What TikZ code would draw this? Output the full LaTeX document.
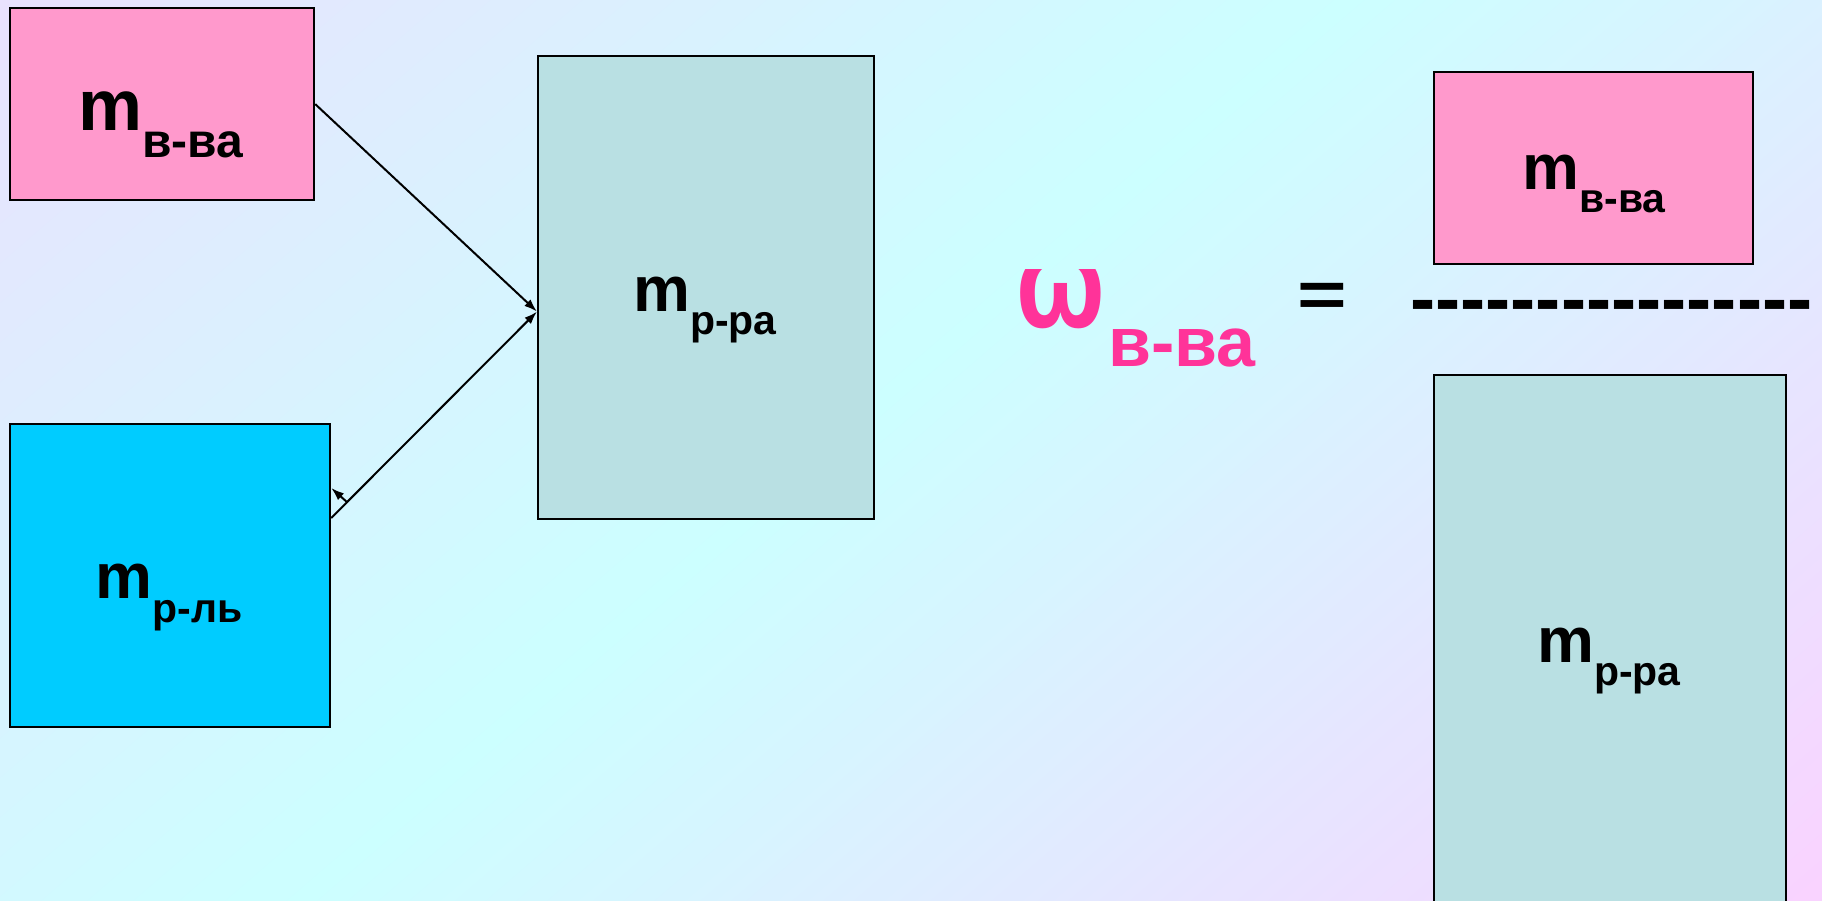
\documentclass[tikz,border=0pt]{standalone}
\usepackage{fontspec}
\newfontfamily\slidefont{Liberation Sans}
\usetikzlibrary{arrows.meta,calc}

\definecolor{bgLav}{RGB}{233,226,254}
\definecolor{bgCyan}{RGB}{204,255,255}
\definecolor{bgPink}{RGB}{250,210,255}
\definecolor{solutePink}{RGB}{255,153,204}
\definecolor{solnTeal}{RGB}{185,224,227}
\definecolor{solvBlue}{RGB}{0,204,255}
\definecolor{omegaPink}{RGB}{255,51,153}

\newcommand{\massterm}[4]{{\fontsize{#1}{#1}\selectfont m}\raisebox{-#3pt}{\fontsize{#2}{#2}\selectfont #4}}

\tikzset{
  box/.style={draw=black, line width=2.2pt, rectangle, inner sep=0pt, anchor=north west},
  lbl/.style={font=\slidefont\bfseries, inner sep=0pt, anchor=base},
  arr/.style={line width=2pt, -{Latex[length=13pt,width=9pt]}},
}

\begin{document}
\begin{tikzpicture}[x=1pt,y=-1pt]
  \path[use as bounding box, clip] (0,0) rectangle (1822,901);
  % background: lavender -> cyan -> pink, in strips
  \begin{scope}[rotate=-49.3]
    \foreach \u in {0,10,...,1880}{
      \pgfmathsetmacro{\mixA}{min(100,\u/8.72)}
      \pgfmathsetmacro{\mixB}{max(0,(\u-872)/10.01)}
      \fill[bgPink!\mixB!bgCyan!\mixA!bgLav] (\u,-1600) rectangle ++(11,3200);
    }
  \end{scope}

  % left side
  \node[box, fill=solutePink, minimum width=304pt, minimum height=192pt] (A) at (9,7) {};
  \node[box, fill=solnTeal, minimum width=336pt, minimum height=463pt] (B) at (537,55) {};
  \node[box, fill=solvBlue, minimum width=320pt, minimum height=303pt] (C) at (9,423) {};
  \node[lbl] (lA) at (161,131) {\massterm{72}{48}{27}{в-ва}};
  \node[lbl] (lB) at (705,311) {\massterm{64}{41}{23}{р-ра}};
  \node[lbl] (lC) at (169,598) {\massterm{64}{41}{24}{р-ль}};

  \coordinate (bIn) at ($(B.west)+(0,24)$);
  \coordinate (cOut) at ($(C.north east)+(0,95)$);
  \coordinate (cTip) at ($(C.north east)+(0,65)$);
  \coordinate (kink) at ($(cOut)!0.077!(bIn)$);
  \draw[arr] (A.east) -- (bIn);
  \draw[arr] (cOut) -- (bIn);
  \draw[arr] (kink) -- (cTip);

  % formula
  \begin{scope}
    \clip (1000,270) rectangle (1120,340);
    \node[lbl, anchor=base west, text=omegaPink] (w) at (1016,327)
      {\scalebox{1}[1.3]{\fontsize{105}{105}\selectfont ω}};
  \end{scope}
  \node[lbl, anchor=base west, text=omegaPink] (wSub) at (1108,366)
    {\fontsize{70}{70}\selectfont в-ва};
  \node[lbl] (eq) at (1322,316) {\scalebox{1}[0.75]{\fontsize{85}{85}\selectfont =}};
  \node[lbl, anchor=base west] (bar) at (1410,324) {\fontsize{75.5}{75.5}\selectfont ----------------};

  \node[box, fill=solutePink, minimum width=319pt, minimum height=192pt] (D) at (1433,71) {};
  \node[box, fill=solnTeal, minimum width=352pt, minimum height=560pt] (E) at (1433,374) {};
  \node[lbl] (lD) at (1594,190) {\massterm{64}{41}{23}{в-ва}};
  \node[lbl] (lE) at (1609,662) {\massterm{64}{41}{23}{р-ра}};
\end{tikzpicture}
\end{document}
